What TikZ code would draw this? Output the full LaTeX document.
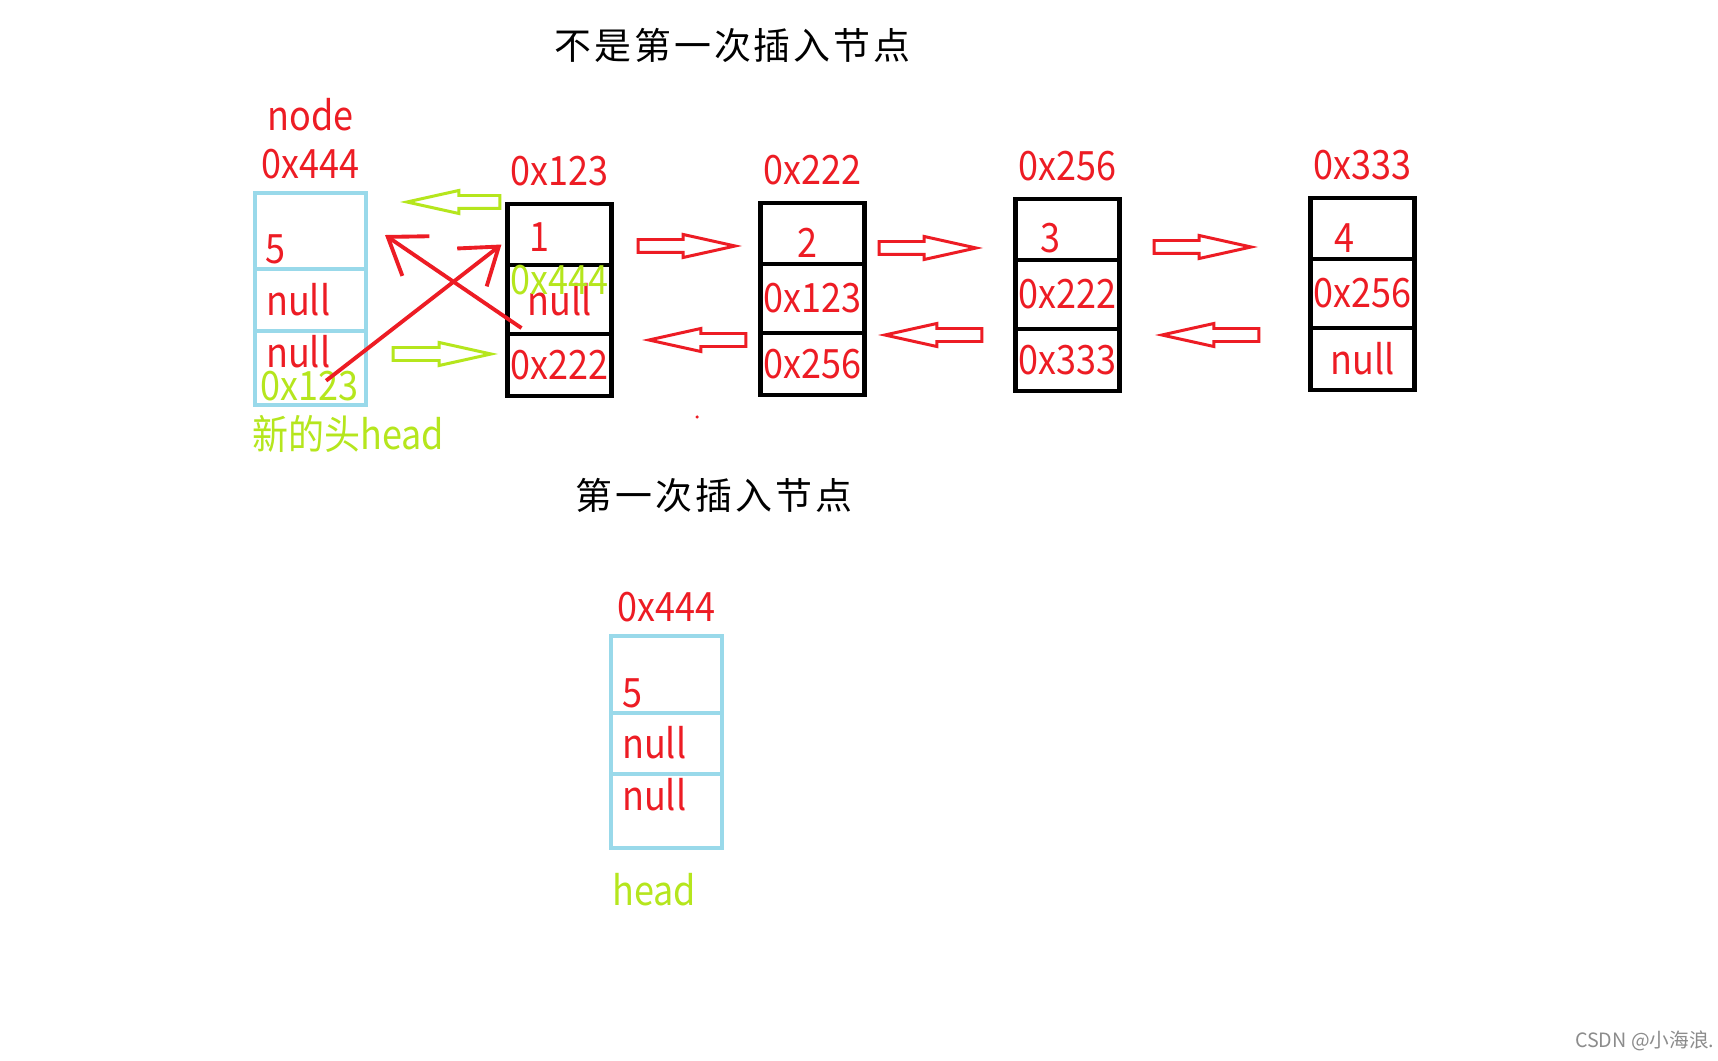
\documentclass[tikz,border=0pt]{standalone}
\usepackage{fontspec}
\setmainfont{Noto Sans CJK SC}
\newfontfamily\titlefont[LetterSpace=8]{Noto Sans CJK SC}
\newfontfamily\lblfont[FakeStretch=0.89]{Noto Sans CJK SC}
\usepackage{tikz}
\usetikzlibrary{shapes,arrows.meta,positioning,calc}

\definecolor{pred}{HTML}{ED1C24}
\definecolor{plime}{HTML}{B5E61D}
\definecolor{pblue}{HTML}{99D9EA}
\newcommand{\lbl}{\lblfont\fontsize{11.5}{13}\selectfont}

\begin{document}
\begin{tikzpicture}[x=0.01cm, y=-0.01cm,
    bcell/.style={draw=black, line width=1.2pt, minimum width=1.04cm, inner sep=0pt, outer sep=0pt, anchor=north, text=pred, font=\lbl},
    qcell/.style={draw=pblue, line width=1.15pt, minimum width=1.11cm, inner sep=0pt, outer sep=0pt, anchor=north},
    val/.style={text=pred, font=\lbl, inner sep=1pt},
    gval/.style={text=plime, font=\lbl, inner sep=1pt},
    hollow/.style={single arrow, draw=#1, line width=0.85pt, anchor=tip, minimum height=0.97cm, inner xsep=0pt, inner ysep=0.05cm, single arrow head extend=0.05cm, single arrow tip angle=25},
    redline/.style={draw=pred, line width=1.1pt, -{Straight Barb[length=3.4mm, width=4.8mm]}}]
    \useasboundingbox[fill=white] (0,0) rectangle (1718,1061);

    % titles
    \node[font=\titlefont\fontsize{10.5}{12}\selectfont] (title1) at (732.5,45) {不是第一次插入节点};
    \node[font=\titlefont\fontsize{10.5}{12}\selectfont] (title2) at (714,495) {第一次插入节点};

    % linked list nodes
    \foreach \nm/\cx/\ty/\numv/\dx/\dy/\prv/\nxt in {123/559.5/204/1/18/14/null/0x222,
        222/812.5/203/2/33/7/0x123/0x256, 256/1067.5/199/3/21/8/0x222/0x333,
        333/1362.5/198/4/20/7/0x256/null}{
      \node[bcell, minimum height=0.61cm] (n\nm a) at (\cx,\ty) {};
      \node[bcell, minimum height=0.69cm] (n\nm b) at (n\nm a.south) {\prv};
      \node[bcell, minimum height=0.62cm] (n\nm c) at (n\nm b.south) {\nxt};
      \node[val, anchor=base west] (v\nm) at ($(n\nm a.south west)+(\dx,-\dy)$) {\numv};
      \node[val, above=0.135cm of n\nm a] (l\nm) {0x\nm};
    }
    \node[gval, anchor=base] (g444) at ($(n123b.north)+(0,29)$) {0x444};

    % new node
    \node[qcell, minimum height=0.76cm] (newa) at (310.5,193) {};
    \node[qcell, minimum height=0.62cm] (newb) at (newa.south) {};
    \node[qcell, minimum height=0.74cm] (newc) at (newb.south) {};
    \node[val, above=0.095cm of newa] (lnew) {0x444};
    \node[val, above=0.1cm of lnew] (tnew) {node};
    \node[val, anchor=base west] (vnew) at ($(newa.south west)+(6,-6)$) {5};
    \node[val, anchor=base west] (pnew) at ($(newb.south west)+(7,-16)$) {null};
    \node[val, anchor=base west] (qnew) at ($(newc.north west)+(7,36)$) {null};
    \node[gval, anchor=base west] (g123) at ($(newc.south west)+(1,-5)$) {0x123};
    \node[gval, anchor=base west] (hnew) at ($(newc.south west)+(-7,44)$) {新的头head};

    % first insert
    \node[qcell, minimum height=0.77cm] (firsta) at (666.5,636) {};
    \node[qcell, minimum height=0.61cm] (firstb) at (firsta.south) {};
    \node[qcell, minimum height=0.74cm] (firstc) at (firstb.south) {};
    \node[val, above=0.095cm of firsta] (lfirst) {0x444};
    \node[val, anchor=base west] (vfirst) at ($(firsta.south west)+(7,-6)$) {5};
    \node[val, anchor=base west] (pfirst) at ($(firstb.south west)+(7,-16)$) {null};
    \node[val, anchor=base west] (qfirst) at ($(firstc.north west)+(7,36)$) {null};
    \node[gval, anchor=base west] (hfirst) at ($(firstc.south west)+(-3,57)$) {head};

    % hollow arrows
    \node[hollow=pred] (r1) at (742,246) {};
    \node[hollow=pred] (r2) at (983,248) {};
    \node[hollow=pred] (r3) at (1258,247) {};
    \node[hollow=pred, shape border rotate=180] (b1) at (642,340) {};
    \node[hollow=pred, shape border rotate=180] (b2) at (878,335) {};
    \node[hollow=pred, shape border rotate=180] (b3) at (1155,335) {};
    \node[hollow=plime, shape border rotate=180, minimum height=0.93cm] (gl) at (400,202) {};
    \node[hollow=plime, minimum height=0.98cm] (gr) at (498,354) {};
    \node[circle, fill=pred, inner sep=0pt, minimum size=0.035cm] (dot) at (697,417) {};

    \draw[redline] ($(g123.center)+(17,-5)$) -- ($(n123a.west)+(-6,10)$);
    \draw[redline] ($(n123b.south west)+(14,-6)$) -- ($(newa.east)+(19,4)$);

    \node[anchor=base east, text=black!45, font=\fontsize{5.6}{7}\selectfont, inner sep=0pt] (wm) at (1715,1047) {CSDN @小海浪.};
\end{tikzpicture}
\end{document}
